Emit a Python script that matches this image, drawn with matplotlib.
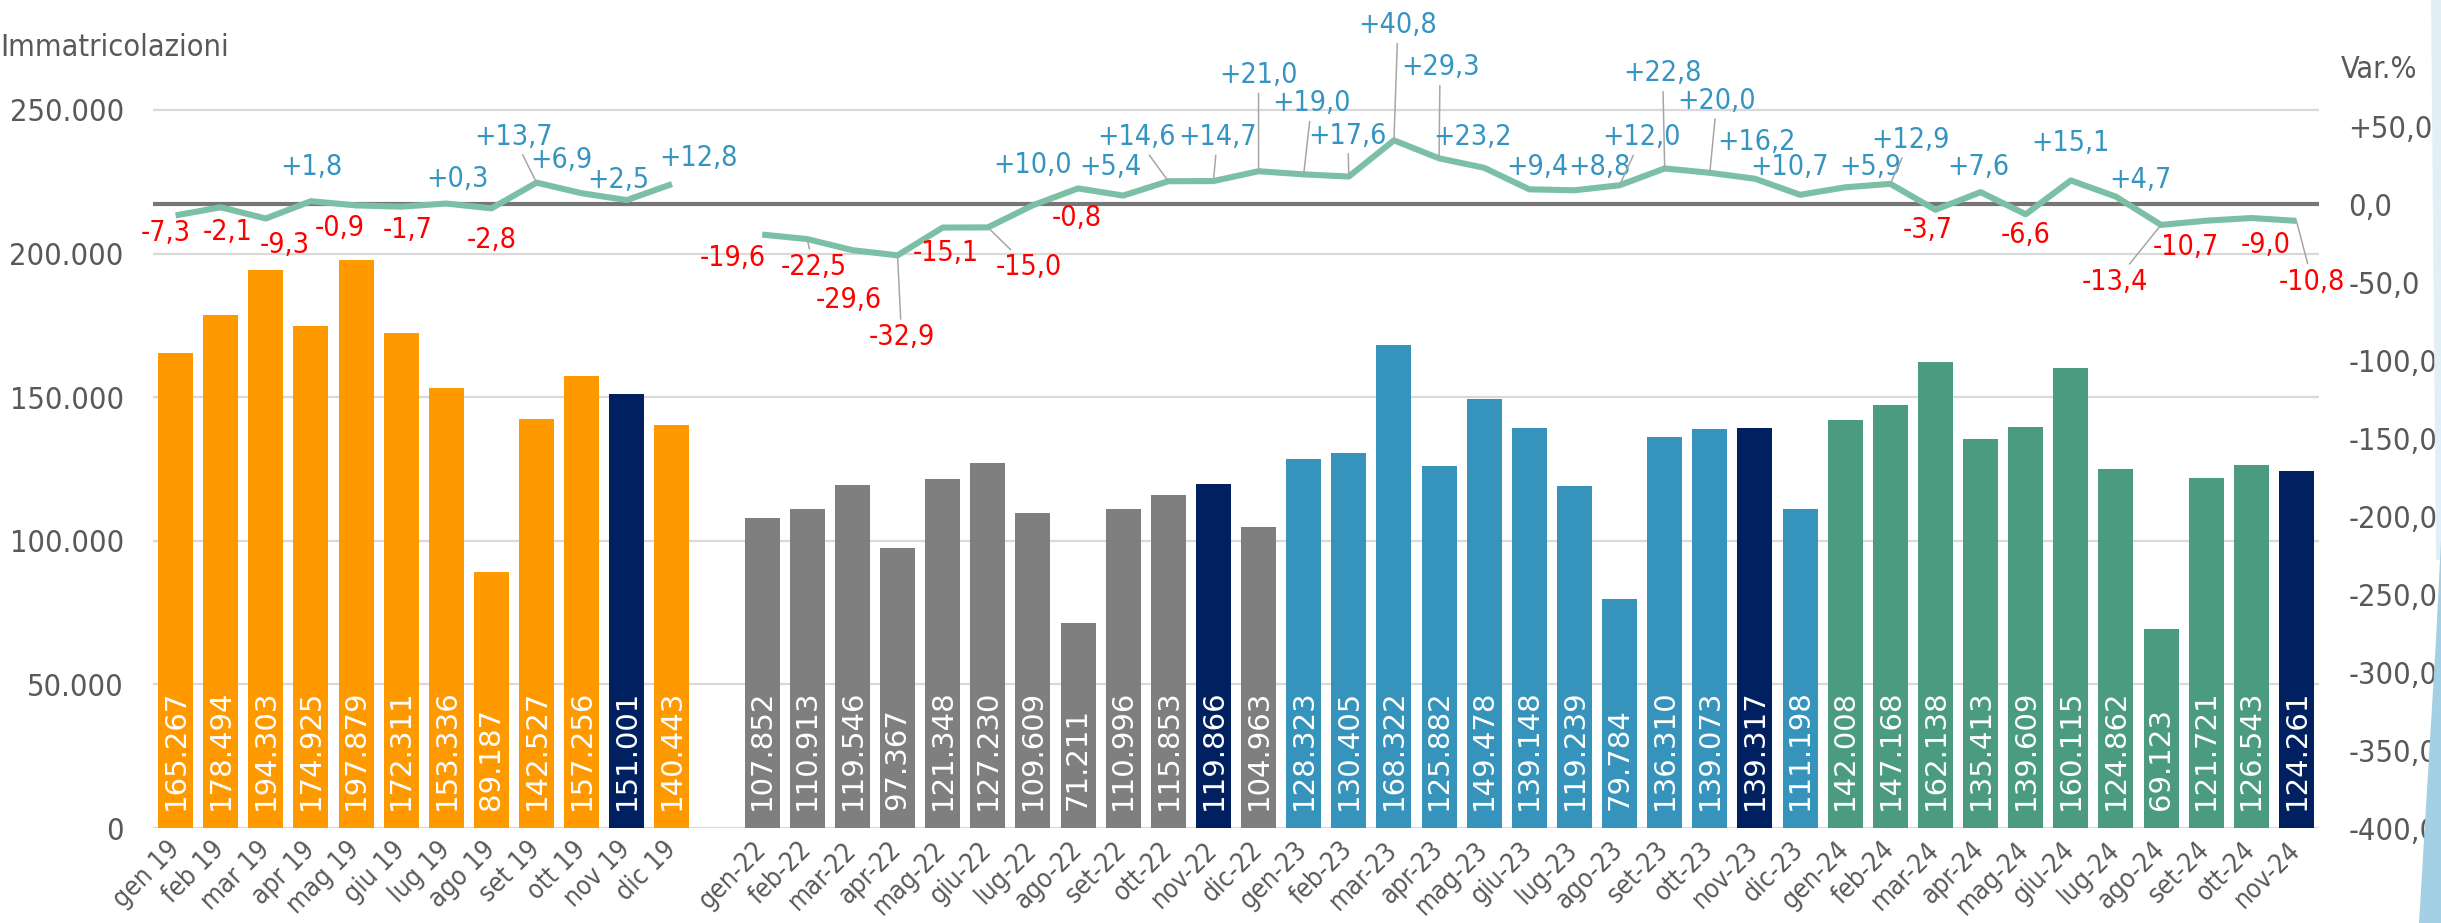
import os
import numpy as np
import matplotlib
matplotlib.use("Agg")
import matplotlib.pyplot as plt
from matplotlib import font_manager as fm
from matplotlib.patches import Polygon
from matplotlib.ticker import FuncFormatter, FixedLocator

# --- data -------------------------------------------------------------------
months_19 = ["gen 19", "feb 19", "mar 19", "apr 19", "mag 19", "giu 19",
             "lug 19", "ago 19", "set 19", "ott 19", "nov 19", "dic 19"]
months_22 = ["gen-22", "feb-22", "mar-22", "apr-22", "mag-22", "giu-22",
             "lug-22", "ago-22", "set-22", "ott-22", "nov-22", "dic-22"]
months_23 = ["gen-23", "feb-23", "mar-23", "apr-23", "mag-23", "giu-23",
             "lug-23", "ago-23", "set-23", "ott-23", "nov-23", "dic-23"]
months_24 = ["gen-24", "feb-24", "mar-24", "apr-24", "mag-24", "giu-24",
             "lug-24", "ago-24", "set-24", "ott-24", "nov-24"]

reg_2019 = [165267, 178494, 194303, 174925, 197879, 172311,
            153336, 89187, 142527, 157256, 151001, 140443]
reg_2022 = [107852, 110913, 119546, 97367, 121348, 127230,
            109609, 71211, 110996, 115853, 119866, 104963]
reg_2023 = [128323, 130405, 168322, 125882, 149478, 139148,
            119239, 79784, 136310, 139073, 139317, 111198]
reg_2024 = [142008, 147168, 162138, 135413, 139609, 160115,
            124862, 69123, 121721, 126543, 124261]

var_2019 = [-7.3, -2.1, -9.3, 1.8, -0.9, -1.7, 0.3, -2.8, 13.7, 6.9, 2.5, 12.8]
var_2022 = [-19.6, -22.5, -29.6, -32.9, -15.1, -15.0, -0.8, 10.0, 5.4, 14.6, 14.7, 21.0]
var_2023 = [19.0, 17.6, 40.8, 29.3, 23.2, 9.4, 8.8, 12.0, 22.8, 20.0, 16.2, 5.9]
var_2024 = [10.7, 12.9, -3.7, 7.6, -6.6, 15.1, 4.7, -13.4, -10.7, -9.0, -10.8]

# label placement for the var% labels (pixels, relative to the point; y down)
label_shift = [
    (-10, 18), (7, 25), (19, 26), (0, -34), (-16, 23), (6, 23), (11, -25), (0, 32),
    (-23, -46), (-20, -33), (-8, -20), (27, -26),
    (-29, 23), (6, 28), (-4, 50), (4, 82), (3, 25), (41, 40), (44, 13), (-46, -23),
    (-13, -29), (-32, -44), (4, -44), (0, -96),
    (8, -71), (-1, -41), (4, -115), (1, -91), (-12, -31), (8, -22), (25, -23), (22, -48),
    (-2, -95), (7, -72), (1, -37), (70, -28),
    (-56, -20), (20, -44), (-8, 20), (-2, -25), (0, 21), (0, -37), (24, -17), (-46, 57),
    (-20, 26), (14, 27), (16, 61),
]
leaders = {8, 13, 15, 17, 21, 22, 23, 24, 25, 26, 27, 31, 32, 33, 37, 43, 46}

ORANGE, GREY, BLUE, GREEN, NAVY = "#FF9900", "#7F7F7F", "#3693BB", "#4B9B80", "#002060"
TXT = "#595959"

# --- assemble the category axis -------------------------------------------
labels = months_19 + [""] + months_22 + months_23 + months_24
values = reg_2019 + [np.nan] + reg_2022 + reg_2023 + reg_2024
var = var_2019 + [np.nan] + var_2022 + var_2023 + var_2024
colors = ([ORANGE] * 12 + ["white"] + [GREY] * 12 + [BLUE] * 12 + [GREEN] * 11)
for i, lab in enumerate(labels):
    if lab.startswith("nov"):
        colors[i] = NAVY
x = np.arange(len(labels))

# --- fonts --------------------------------------------------------------------
cond_path = None
for f in fm.fontManager.ttflist:
    if os.path.basename(f.fname) == "DejaVuSansCondensed.ttf":
        cond_path = f.fname
        break


def cfont(size):
    if cond_path:
        return fm.FontProperties(fname=cond_path, size=size)
    return fm.FontProperties(family="DejaVu Sans", size=size)


# --- figure -------------------------------------------------------------------
W, H = 2441, 923
fig = plt.figure(figsize=(W / 100, H / 100), dpi=100)
top_px, bot_px, left_px, right_px = 100, 828, 153, 2319
ax = fig.add_axes([left_px / W, (H - bot_px) / H, (right_px - left_px) / W, (bot_px - top_px) / H])
hpx = bot_px - top_px

ax.bar(x, values, width=0.776, color=colors, zorder=2)
ax.set_xlim(-0.5, len(labels) - 0.5)
ax.set_ylim(0, hpx / 143.6 * 50000)
ax.yaxis.set_major_locator(FixedLocator(range(0, 250001, 50000)))
ax.yaxis.set_major_formatter(FuncFormatter(lambda v, p: f"{int(v):,}".replace(",", ".")))
ax.set_axisbelow(True)
ax.yaxis.grid(True, color="#D9D9D9", lw=1.6)
for s in ax.spines.values():
    s.set_visible(False)
ax.tick_params(axis="y", length=0, pad=21, colors=TXT)
ax.tick_params(axis="x", length=0, pad=13)
ax.set_xticks(x)
ax.set_xticklabels(labels, rotation=45, ha="right", va="center",
                   rotation_mode="anchor", color=TXT)
for t in ax.get_xticklabels():
    t.set_fontproperties(cfont(19))
for t in ax.get_yticklabels():
    t.set_fontproperties(cfont(22))

for xi, v in zip(x, values):
    if np.isnan(v):
        continue
    ax.annotate(f"{int(v):,}".replace(",", "."), (xi, 0), xytext=(0, 18),
                textcoords="offset pixels", rotation=90, ha="center", va="bottom",
                color="white", fontsize=21, family="DejaVu Sans", zorder=3)

# --- var % line ------------------------------------------------------------
ax2 = ax.twinx()
ax2.set_ylim(-400, -400 + hpx / 78 * 50)
ax2.yaxis.set_major_locator(FixedLocator(range(-400, 51, 50)))


def pct_fmt(v, p):
    s = f"{abs(v):.1f}".replace(".", ",")
    if v > 0:
        return "+" + s
    if v < 0:
        return "-" + s
    return s


ax2.yaxis.set_major_formatter(FuncFormatter(pct_fmt))
for s in ax2.spines.values():
    s.set_visible(False)
ax2.tick_params(axis="y", length=0, pad=21, colors=TXT)
for t in ax2.get_yticklabels():
    t.set_fontproperties(cfont(22))

ax2.axhline(0, color="#767676", lw=3, zorder=1)
ax2.plot(x, var, color="#7BC0A5", lw=4.4, zorder=2, solid_joinstyle="round",
         solid_capstyle="butt")

k = 0
for xi, v in zip(x, var):
    if np.isnan(v):
        continue
    dx, dy = label_shift[k]
    col = "#3594C0" if v > 0 else "#FF0000"
    txt = f"{v:+.1f}".replace(".", ",")
    kw = {}
    if k in leaders:
        kw["arrowprops"] = dict(arrowstyle="-", color="#A6A6A6", lw=1.1,
                                shrinkA=1, shrinkB=0)
    ax2.annotate(txt, (xi, v), xytext=(dx, -dy), textcoords="offset pixels",
                 ha="center", va="center", color=col, fontproperties=cfont(20.5),
                 annotation_clip=False, zorder=4, **kw)
    k += 1

# --- titles -----------------------------------------------------------------
fig.text(0 / W, 1 - 47 / H, "Immatricolazioni", ha="left", va="center",
         color=TXT, fontproperties=cfont(22))
fig.text(2341 / W, 1 - 70 / H, "Var.%", ha="left", va="center",
         color=TXT, fontproperties=cfont(22))

# light blue decoration on the right edge
def fpx(px, py):
    return (px / W, 1 - py / H)


fig.patches.append(Polygon([fpx(2431, 0), fpx(2441, 0), fpx(2441, 560), fpx(2436, 560)],
                           closed=True, transform=fig.transFigure,
                           facecolor="#E3EFF6", edgecolor="none"))
fig.patches.append(Polygon([fpx(2441, 540), fpx(2436, 640), fpx(2419, 923), fpx(2441, 923)],
                           closed=True, transform=fig.transFigure,
                           facecolor="#A3D0E4", edgecolor="none"))

fig.savefig("out.png", dpi=100)
